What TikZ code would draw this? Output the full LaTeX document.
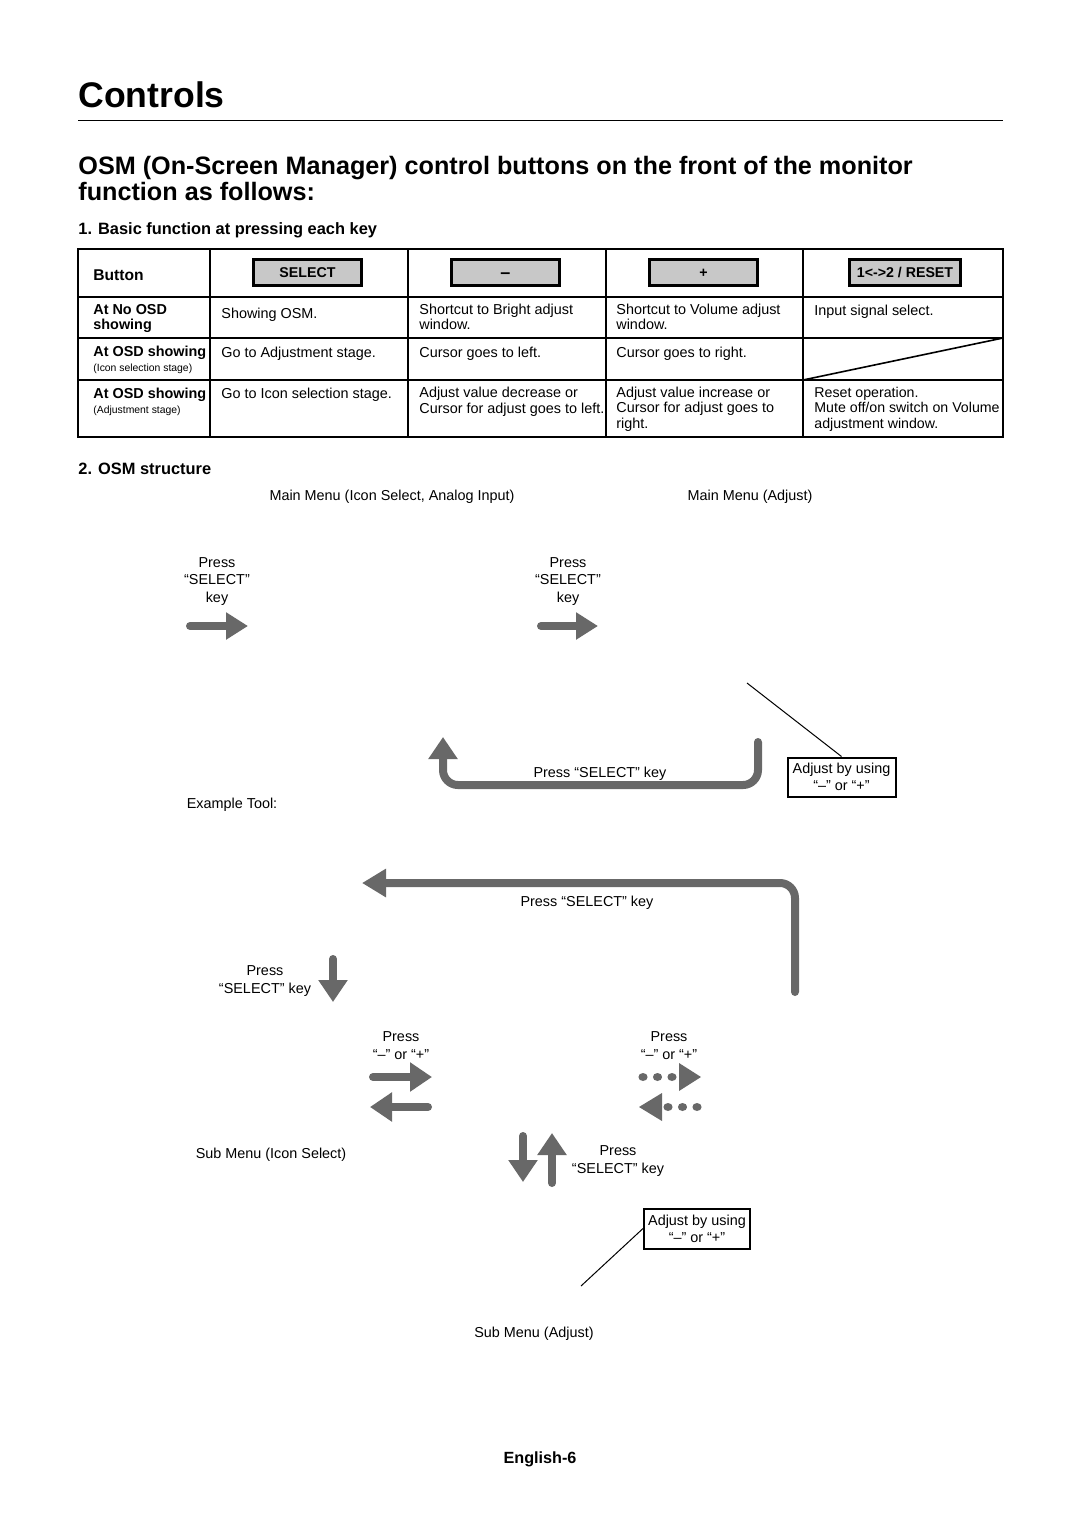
\documentclass[tikz,border=0pt]{standalone}
\usepackage{fontspec}
\setmainfont{Liberation Sans}
\usepackage{tikz}
\usetikzlibrary{arrows.meta,positioning}
\definecolor{arrowgray}{RGB}{104,104,104}
\definecolor{keygray}{RGB}{200,200,200}

\begin{document}
\begin{tikzpicture}[x=0.5pt,y=-0.5pt]
  \tikzset{
    txt/.style={font=\fontsize{7.2}{7.4}\selectfont, inner sep=0pt, align=left, anchor=base west},
    ctxt/.style={font=\fontsize{7.2}{8.7}\selectfont, inner sep=0pt, align=center, anchor=base},
    lbl/.style={font=\bfseries\fontsize{7.2}{7.4}\selectfont, inner sep=0pt, align=left, anchor=base west},
    note/.style={font=\fontsize{5.2}{6}\selectfont, inner sep=0pt, anchor=base west},
    grid/.style={draw=black, line width=1pt},
    keybox/.style={draw=black, line width=1.6pt, fill=keygray, minimum width=54pt, minimum height=13pt, inner sep=0pt, text height=5.1pt, text depth=0pt, font=\bfseries\fontsize{7.1}{8}\selectfont},
    tipbox/.style={draw=black, line width=1pt, inner sep=0pt, minimum width=54pt, minimum height=19.5pt, align=center, font=\fontsize{7.2}{8.5}\selectfont},
    lead/.style={black, line width=0.5pt},
    bigarrow/.style={draw=arrowgray, line width=4pt, line cap=round, -{Triangle[length=11pt,width=14pt]}},
    dot/.style={fill=arrowgray}
  }
  \useasboundingbox (0,0) rectangle (1080,1528);

  % ================= HEADINGS =================
  % (multi-line nodes sit on the baseline of their last line)
  \node[font=\bfseries\fontsize{17.8}{20}\selectfont, inner sep=0pt, anchor=base west] (title) at (78,107) {Controls};
  \draw[line width=0.5pt] (78,120) -- (1003,120);
  \node[font=\bfseries\fontsize{12.6}{13}\selectfont, inner sep=0pt, align=left, anchor=base west] (intro) at (78,200)
    {OSM (On-Screen Manager) control buttons on the front of the monitor\\function as follows:};
  \node[font=\bfseries\fontsize{8.2}{9}\selectfont, inner sep=0pt, anchor=base west] (sec1) at (78,234) {1. Basic function at pressing each key};

  % ================= TABLE =================
  \def\tL{78}\def\tR{1003}\def\tT{249}\def\tB{437}
  \draw[grid] (\tL,\tT) rectangle (\tR,\tB);
  \draw[grid] (\tL,297) -- (\tR,297);
  \draw[grid] (\tL,338) -- (\tR,338);
  \draw[grid] (\tL,380) -- (\tR,380);
  \draw[grid] (210,\tT) -- (210,\tB);
  \draw[grid] (408,\tT) -- (408,\tB);
  \draw[grid] (606,\tT) -- (606,\tB);
  \draw[grid] (803,\tT) -- (803,\tB);
  \draw[line width=0.8pt] (803,380) -- (1003,338);

  % header row
  \node[lbl, font=\bfseries\fontsize{7.8}{8}\selectfont] (hbtn) at (93,280) {Button};
  \node[keybox] (ksel) at (307.5,272.5) {SELECT};
  \node[keybox] (kminus) at (505.5,272.5) {};
  \node[font=\bfseries\fontsize{9}{9}\selectfont, inner sep=0pt, yshift=-1.6pt] (kdash) at (kminus) {–};
  \node[keybox] (kplus) at (703.5,272.5) {+};
  \node[keybox, minimum width=55.5pt] (kreset) at (905,272.5) {1<->2 / RESET};

  % row labels
  \node[lbl] (lab1) at (93,329) {At No OSD\\showing};
  \node[lbl] (lab2) at (93,356) {At OSD showing};
  \node[note] (sub2) at (93,371) {(Icon selection stage)};
  \node[lbl] (lab3) at (93,398) {At OSD showing};
  \node[note] (sub3) at (93,413) {(Adjustment stage)};

  % cells
  \node[txt] (c11) at (221,318) {Showing OSM.};
  \node[txt] (c12) at (419,329.5) {Shortcut to Bright adjust\\window.};
  \node[txt] (c13) at (616,329.5) {Shortcut to Volume adjust\\window.};
  \node[txt] (c14) at (814,315) {Input signal select.};
  \node[txt] (c21) at (221,357) {Go to Adjustment stage.};
  \node[txt] (c22) at (419,357) {Cursor goes to left.};
  \node[txt] (c23) at (616,357) {Cursor goes to right.};
  \node[txt, font=\fontsize{7.2}{7.6}\selectfont] (c31) at (221,398) {Go to Icon selection stage.};
  \node[txt, font=\fontsize{7.2}{7.6}\selectfont] (c32) at (419,413) {Adjust value decrease or\\Cursor for adjust goes to left.};
  \node[txt, font=\fontsize{7.2}{7.6}\selectfont] (c33) at (616,428) {Adjust value increase or\\Cursor for adjust goes to\\right.};
  \node[txt, font=\fontsize{7.1}{7.6}\selectfont] (c34) at (814,428) {Reset operation.\\Mute off/on switch on Volume\\adjustment window.};

  % ================= OSM STRUCTURE =================
  \node[font=\bfseries\fontsize{8.2}{9}\selectfont, inner sep=0pt, anchor=base west] (sec2) at (78,474) {2. OSM structure};

  \node[ctxt] (mmicon) at (392,500) {Main Menu (Icon Select, Analog Input)};
  \node[ctxt] (mmadj) at (750,500) {Main Menu (Adjust)};

  % press select, top row
  \node[ctxt] (psel1) at (217,602) {Press\\“SELECT”\\key};
  \node[ctxt] (psel2) at (568,602) {Press\\“SELECT”\\key};
  \coordinate (a1s) at (190,626);
  \coordinate (a1e) at (248,626);
  \coordinate (a2s) at (541,626);
  \coordinate (a2e) at (598,626);
  \draw[bigarrow, -{Triangle[length=11pt,width=13pt]}] (a1s) -- (a1e);
  \draw[bigarrow, -{Triangle[length=11pt,width=13pt]}] (a2s) -- (a2e);

  % U-turn back to icon select
  \node[tipbox] (adj1) at (841.5,777) {Adjust by using\\“–” or “+”};
  \coordinate (lead1) at (747,683);
  \draw[lead] (lead1) -- (adj1.north);
  \coordinate (us) at (758,742);
  \coordinate (ub) at (600,785);
  \coordinate (ue) at (443,737);
  \draw[bigarrow, rounded corners=7.5pt] (us) |- (ub) -| (ue);
  \node[ctxt] (uback) at (600,777) {Press “SELECT” key};

  \node[ctxt] (extool) at (232,808) {Example Tool:};

  % long return arrow
  \coordinate (ls) at (795,992);
  \coordinate (le) at (362,883);
  \draw[bigarrow, rounded corners=7.5pt, -{Triangle[length=12pt,width=13.5pt]}] (ls) |- (le);
  \node[ctxt] (lback) at (587,906) {Press “SELECT” key};

  % down to sub menu
  \node[ctxt] (psel3) at (265,993) {Press\\“SELECT” key};
  \coordinate (d1s) at (333,959);
  \coordinate (d1e) at (333,1002);
  \draw[bigarrow] (d1s) -- (d1e);

  % sub menu icon select: - / +
  \node[ctxt] (pm1) at (401,1059) {Press\\“–” or “+”};
  \coordinate (r1s) at (373,1077);
  \coordinate (r1e) at (432,1077);
  \coordinate (l1s) at (428,1107);
  \coordinate (l1e) at (370,1107);
  \draw[bigarrow] (r1s) -- (r1e);
  \draw[bigarrow] (l1s) -- (l1e);

  % sub menu adjust: - / + (dotted)
  \node[ctxt] (pm2) at (669,1059) {Press\\“–” or “+”};
  \fill[dot] (643,1077) circle[x radius=2.3pt, y radius=2pt];
  \fill[dot] (657.5,1077) circle[x radius=2.3pt, y radius=2pt];
  \fill[dot] (672,1077) circle[x radius=2.3pt, y radius=2pt];
  \fill[dot] (679,1063) -- (701,1077) -- (679,1091) -- cycle;
  \fill[dot] (668,1107) circle[x radius=2.3pt, y radius=2pt];
  \fill[dot] (682.5,1107) circle[x radius=2.3pt, y radius=2pt];
  \fill[dot] (697,1107) circle[x radius=2.3pt, y radius=2pt];
  \fill[dot] (662,1093) -- (639,1107) -- (662,1121) -- cycle;

  \node[ctxt] (subicon) at (271,1158) {Sub Menu (Icon Select)};

  % select in / out of adjust
  \coordinate (d2s) at (523,1136);
  \coordinate (d2e) at (523,1182);
  \coordinate (u2s) at (552,1183);
  \coordinate (u2e) at (552,1133);
  \draw[bigarrow] (d2s) -- (d2e);
  \draw[bigarrow] (u2s) -- (u2e);
  \node[ctxt] (psel4) at (618,1173) {Press\\“SELECT” key};

  \node[tipbox, minimum width=53pt, minimum height=20pt] (adj2) at (697,1228.5) {Adjust by using\\“–” or “+”};
  \coordinate (lead2) at (581,1286);
  \draw[lead] (adj2.west) -- (lead2);

  \node[ctxt] (subadj) at (534,1337) {Sub Menu (Adjust)};

  \node[font=\bfseries\fontsize{8.1}{9}\selectfont, inner sep=0pt, anchor=base] (page) at (540,1463) {English-6};

\end{tikzpicture}
\end{document}
